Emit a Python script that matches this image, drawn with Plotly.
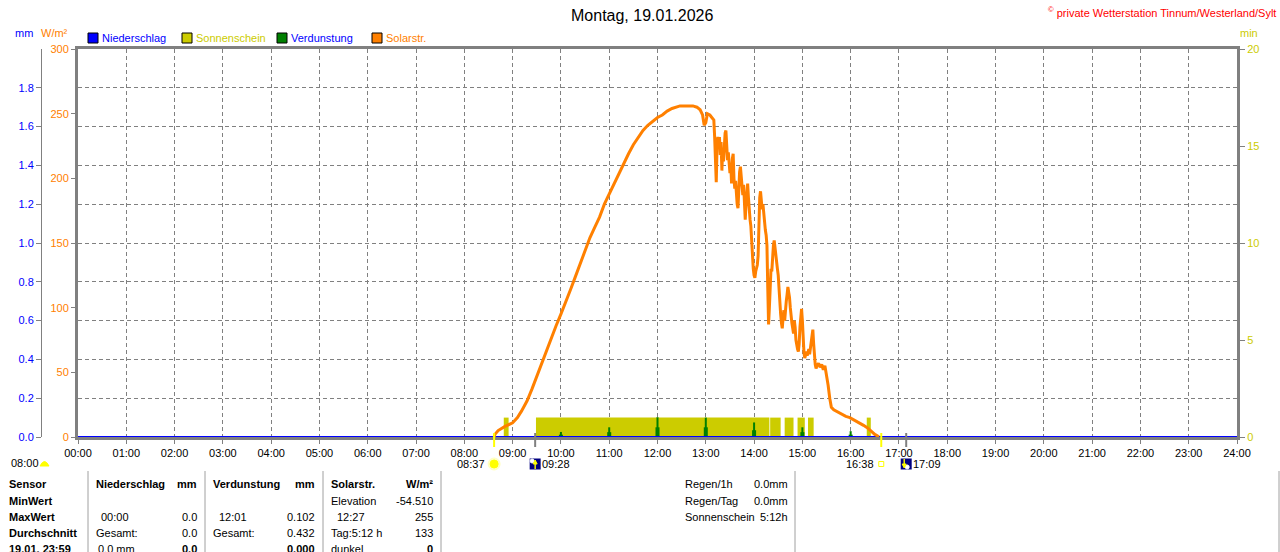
import plotly.graph_objects as go

# ---------------- data ----------------
hour_labels = ["%02d:00" % h for h in range(25)]

solar_times = [
    "08:37","08:38","08:42","08:50","09:00","09:06","09:11","09:18","09:24","09:30",
    "09:36","09:42","09:48","09:54","10:00","10:06","10:12","10:18","10:24","10:30",
    "10:36","10:42","10:48","10:54","11:00","11:06","11:12","11:18","11:24","11:30",
    "11:36","11:42","11:48","11:54","12:00","12:06","12:12","12:18","12:24","12:28",
    "12:36","12:44","12:49","12:53","12:56","12:58","13:00","13:02","13:05","13:08",
    "13:10","13:11",
    "13:12","13:13","13:14","13:15","13:16","13:17","13:18","13:19","13:20","13:21",
    "13:22","13:23","13:24","13:25","13:26","13:27","13:28","13:29","13:30","13:31",
    "13:32","13:33","13:34","13:35","13:36","13:37","13:38","13:39","13:40","13:41",
    "13:42","13:43","13:44","13:45","13:46","13:47","13:48","13:49","13:50","13:51",
    "13:52","13:53","13:54","13:55","13:56","13:57","13:58","13:59","14:00","14:01",
    "14:02","14:03","14:04","14:05","14:06","14:07","14:08","14:09","14:10","14:11",
    "14:12","14:13","14:14","14:15","14:16","14:17","14:18","14:19","14:20","14:21",
    "14:22","14:23","14:24","14:25","14:26","14:27","14:28","14:29","14:30","14:31",
    "14:32","14:33","14:34","14:35","14:36","14:37","14:38","14:39","14:40","14:41",
    "14:42","14:43","14:44","14:45","14:46","14:47","14:48","14:49","14:50","14:51",
    "14:52","14:53","14:54","14:55","14:56","14:57","14:58","14:59","15:00","15:01",
    "15:02","15:03","15:04","15:05","15:06","15:07","15:08","15:09","15:10","15:11",
    "15:12","15:13","15:14","15:15","15:16","15:17",
    "15:18","15:20","15:22","15:24","15:26","15:28","15:30","15:32","15:34","15:36",
    "15:39","15:43","15:48","15:54","15:59","16:05","16:10","16:16","16:21","16:26",
    "16:30","16:33","16:35"]
solar_values = [
    0, 2, 5, 8, 11, 15, 20, 28, 37, 47,
    57, 67, 77, 86, 95, 104, 114, 124, 134, 144,
    154, 162, 170, 180, 188, 196, 204, 211, 219, 226,
    232, 237, 241, 244, 247, 249, 252, 254, 255, 256,
    256, 256, 255, 253, 249, 241, 243, 250, 249, 247,
    245, 232,
    215, 197, 225, 232, 226, 232, 218, 228, 206, 222,
    213, 230, 235, 237, 226, 214, 220, 209, 204, 212,
    196, 215, 219, 200, 192, 198, 187, 180, 177, 195,
    205, 209, 200, 192, 187, 195, 175, 168, 180, 190,
    196, 185, 172, 168, 163, 150, 140, 130, 125, 123,
    128, 130, 133, 140, 170, 185, 190, 182, 176, 180,
    172, 165, 160, 156, 148, 115, 87, 100, 120, 130,
    128, 140, 148, 152, 145, 140, 132, 130, 125, 112,
    108, 95, 88, 84, 92, 98, 90, 100, 105, 110,
    116, 112, 108, 100, 92, 88, 84, 80, 90, 85,
    75, 70, 68, 66, 72, 85, 92, 99, 90, 75,
    65, 61, 64, 66, 63, 65, 68, 64, 70, 76,
    80, 83, 72, 62, 56, 53,
    55, 57, 54, 56, 52, 55, 48, 40, 30, 23,
    21, 19.6, 18, 16, 15, 13, 11, 9, 7, 4,
    2, 1, 0]
assert len(solar_times) == len(solar_values)

sun_start = ["08:49","09:29","14:20","14:38","14:54","15:07","16:20"]
sun_end   = ["08:55","14:19","14:33","14:49","15:03","15:14","16:25"]
sun_level = 1  # minutes of sunshine per minute

verd_times = ["10:00","11:00","12:00","13:00","14:00","15:00","16:00"]
verd_peak  = [0.026, 0.050, 0.102, 0.100, 0.075, 0.050, 0.030]
verd_base  = [0.012, 0.025, 0.050, 0.050, 0.035, 0.025, 0.012]

rain_times = hour_labels
rain_values = [0.0] * 25

event_times = ["08:37", "09:28", "16:38", "17:09"]

mm_ticks = [0.0, 0.2, 0.4, 0.6, 0.8, 1.0, 1.2, 1.4, 1.6, 1.8]
solar_ticks = [0, 50, 100, 150, 200, 250, 300]
min_ticks = [0, 5, 10, 15, 20]

# ---------------- helpers ----------------
W, H = 1280, 552
def X(p): return p / W
def Y(p): return 1 - p / H
def hm(s):
    h, m = s.split(":")
    return int(h) + int(m) / 60.0

FONT = "Liberation Sans"
ORANGE = "#FF8000"
YEL = "#CCCC00"
BLUE = "#0000FF"
GREEN = "#008000"
GRAY = "#808080"

fig = go.Figure()

# sunshine bars (right axis, minutes)
sx = [(hm(a) + hm(b)) / 2 for a, b in zip(sun_start, sun_end)]
sw = [hm(b) - hm(a) for a, b in zip(sun_start, sun_end)]
fig.add_trace(go.Bar(x=sx, y=[sun_level] * len(sx), width=sw, yaxis="y",
                     marker=dict(color=YEL, line=dict(width=0)), hoverinfo="skip"))

# evaporation bars (mm)
vx = [hm(t) for t in verd_times]
fig.add_trace(go.Bar(x=vx, y=verd_base, width=[5 / 60] * len(vx), yaxis="y2",
                     marker=dict(color=GREEN, line=dict(width=0)), hoverinfo="skip"))
fig.add_trace(go.Bar(x=vx, y=verd_peak, width=[2.5 / 60] * len(vx), yaxis="y2",
                     marker=dict(color=GREEN, line=dict(width=0)), hoverinfo="skip"))

# precipitation line (mm)
fig.add_trace(go.Scatter(x=[hm(t) for t in rain_times], y=rain_values, yaxis="y2",
                         mode="lines", line=dict(color=BLUE, width=2), hoverinfo="skip"))

# solar radiation
fig.add_trace(go.Scatter(x=[hm(t) for t in solar_times], y=solar_values, yaxis="y3",
                         mode="lines", line=dict(color=ORANGE, width=3), hoverinfo="skip"))

xdom = [X(78), X(1237)]
ydom = [Y(437), Y(49)]

fig.update_layout(
    template="none",
    width=W, height=H, margin=dict(l=0, r=0, t=0, b=0, pad=0, autoexpand=False),
    paper_bgcolor="white", plot_bgcolor="white",
    showlegend=False, barmode="overlay", hovermode=False,
    font=dict(family=FONT, size=11, color="black"),
    xaxis=dict(domain=xdom, range=[0, 24], tickvals=list(range(25)), ticktext=hour_labels,
               showgrid=True, gridcolor=GRAY, griddash="4px,3px", gridwidth=1,
               showline=True, linecolor=GRAY, linewidth=3, mirror=True, automargin=False,
               ticks="outside", ticklen=4, tickcolor=GRAY, tickfont=dict(size=11, color="black"),
               zeroline=False, layer="below traces", fixedrange=True),
    yaxis=dict(domain=ydom, range=[0, 20], side="right", anchor="x", automargin=False,
               tickvals=min_ticks, tickfont=dict(color=YEL, size=11),
               showgrid=False, zeroline=False, showline=True, linecolor=GRAY, linewidth=3,
               ticks="outside", ticklen=5, tickcolor=GRAY, layer="below traces", fixedrange=True),
    yaxis2=dict(domain=ydom, range=[0, 2.0], overlaying="y", side="left", anchor="free",
                position=X(41), tickvals=mm_ticks, ticktext=["%.1f" % v for v in mm_ticks],
                tickfont=dict(color=BLUE, size=11), automargin=False,
                showgrid=True, gridcolor=GRAY, griddash="4px,3px", gridwidth=1,
                zeroline=False, showline=True, linecolor=GRAY, linewidth=1,
                ticks="outside", ticklen=5, tickcolor=GRAY, layer="below traces", fixedrange=True),
    yaxis3=dict(domain=ydom, range=[0, 300], overlaying="y", side="left", anchor="x",
                tickvals=solar_ticks, tickfont=dict(color=ORANGE, size=11), automargin=False,
                showgrid=False, zeroline=False, showline=True, linecolor=GRAY, linewidth=3,
                ticks="outside", ticklen=4, tickcolor=GRAY, layer="below traces", fixedrange=True),
)

ann = []
shapes = []

def txt(x, y, s, color="black", anchor="left", size=11, bold=False):
    if bold:
        s = "<b>" + s + "</b>"
    ann.append(dict(x=X(x), y=Y(y), xref="paper", yref="paper", text=s, showarrow=False,
                    xanchor=anchor, yanchor="middle", font=dict(color=color, size=size, family=FONT),
                    borderpad=0))

# title and credit
txt(642, 15, "Montag, 19.01.2026", anchor="center", size=16)
txt(1277, 12, "<sup>©</sup> private Wetterstation Tinnum/Westerland/Sylt", color="#FF0000", anchor="right", size=11)

# axis unit labels
txt(14, 33, "mm", color=BLUE)
txt(40, 33, "W/m²", color=ORANGE)
txt(1239, 33, "min", color=YEL)

# legend
leg = [("Niederschlag", BLUE, BLUE, 88), ("Sonnenschein", YEL, YEL, 182),
       ("Verdunstung", GREEN, BLUE, 277), ("Solarstr.", ORANGE, ORANGE, 372)]
for name, fill, tcol, x0 in leg:
    shapes.append(dict(type="rect", xref="paper", yref="paper", x0=X(x0), x1=X(x0 + 10),
                       y0=Y(43), y1=Y(33), fillcolor=fill, line=dict(color="black", width=1)))
    txt(x0 + 13, 38, name, color=tcol)

# event markers below axis
ev_col = ["#FFFF00", GRAY, "#FFFF00", GRAY]
for t, c in zip(event_times, ev_col):
    shapes.append(dict(type="line", xref="x", yref="paper", x0=hm(t), x1=hm(t),
                       y0=Y(447), y1=Y(433), line=dict(color=c, width=2)))

def icon_rect(t, dx0, dx1, dy0, dy1, fill, line=None):
    shapes.append(dict(type="rect", xref="x", yref="paper", xsizemode="pixel", ysizemode="pixel",
                       xanchor=hm(t), yanchor=Y(464), x0=dx0, x1=dx1, y0=dy0, y1=dy1,
                       fillcolor=fill, line=line or dict(width=0)))

def icon_circle(t, r, fill, lc, dx=0, dy=0):
    shapes.append(dict(type="circle", xref="x", yref="paper", xsizemode="pixel", ysizemode="pixel",
                       xanchor=hm(t), yanchor=Y(464), x0=dx - r, x1=dx + r, y0=dy - r, y1=dy + r,
                       fillcolor=fill, line=dict(color=lc, width=1)))

def icon_path(t, path, fill, lc=None):
    shapes.append(dict(type="path", xref="x", yref="paper", xsizemode="pixel", ysizemode="pixel",
                       xanchor=hm(t), yanchor=Y(464), path=path, fillcolor=fill,
                       line=dict(color=lc or fill, width=1)))

# sunrise 08:37
icon_circle(event_times[0], 6, "#FFFFC0", "#FFFFC0")
icon_circle(event_times[0], 4, "#FFFF00", "#FFFF00")
ann.append(dict(x=hm(event_times[0]), y=Y(464), xref="x", yref="paper", text=event_times[0],
                showarrow=False, xanchor="right", yanchor="middle", xshift=-7, font=dict(size=11)))
# 09:28 (rise icon)
icon_rect(event_times[1], -5.5, 5.5, -5.5, 5.5, "#000080")
icon_circle(event_times[1], 2, "white", "white", dx=-3, dy=3)
icon_path(event_times[1], "M -2,0 L 0,4 L 2,0 Z", "#FFFF00")
icon_rect(event_times[1], -0.7, 0.7, -5, 0, "#FFFF00")
ann.append(dict(x=hm(event_times[1]), y=Y(464), xref="x", yref="paper", text=event_times[1],
                showarrow=False, xanchor="left", yanchor="middle", xshift=5, font=dict(size=11)))
# sunset 16:38
icon_rect(event_times[2], -2.5, 2.5, -2.5, 2.5, "white", dict(color="#FFFF00", width=1))
ann.append(dict(x=hm(event_times[2]), y=Y(464), xref="x", yref="paper", text=event_times[2],
                showarrow=False, xanchor="right", yanchor="middle", xshift=-5, font=dict(size=11)))
# 17:09 (set icon)
icon_rect(event_times[3], -5.5, 5.5, -5.5, 5.5, "#000080")
icon_circle(event_times[3], 2, "white", "white", dx=1, dy=-3)
icon_path(event_times[3], "M -4,0 L -2,-4 L 0,0 Z", "#FFFF00")
icon_rect(event_times[3], -2.7, -1.3, 0, 5, "#FFFF00")
ann.append(dict(x=hm(event_times[3]), y=Y(464), xref="x", yref="paper", text=event_times[3],
                showarrow=False, xanchor="left", yanchor="middle", xshift=5, font=dict(size=11)))

# 08:00 on far left
txt(10, 463, "08:00")
shapes.append(dict(type="path", xref="paper", yref="paper", xsizemode="pixel", ysizemode="pixel",
                   xanchor=X(44.5), yanchor=Y(466), path="M -4.5,0 Q 0,9 4.5,0 Z",
                   fillcolor="#FFFF00", line=dict(color="#FFFF00", width=1)))

# table separators
for xl in [88, 205, 323, 441, 795, 1279]:
    shapes.append(dict(type="line", xref="paper", yref="paper", x0=X(xl), x1=X(xl),
                       y0=Y(471), y1=Y(552), line=dict(color="#A0A0A0", width=1)))

rows = [484, 500.5, 516.5, 532.5, 548.5]
row_heads = ["Sensor", "MinWert", "MaxWert", "Durchschnitt", "19.01. 23:59"]
for r, s in zip(rows, row_heads):
    txt(8, r, s, bold=True)

txt(95, rows[0], "Niederschlag", bold=True); txt(198, rows[0], "mm", anchor="right", bold=True)
txt(212, rows[0], "Verdunstung", bold=True); txt(316, rows[0], "mm", anchor="right", bold=True)
txt(330, rows[0], "Solarstr.", bold=True); txt(434, rows[0], "W/m²", anchor="right", bold=True)

txt(330, rows[1], "Elevation"); txt(434, rows[1], "-54.510", anchor="right")

txt(100, rows[2], "00:00"); txt(198, rows[2], "0.0", anchor="right")
txt(218, rows[2], "12:01"); txt(316, rows[2], "0.102", anchor="right")
txt(336, rows[2], "12:27"); txt(434, rows[2], "255", anchor="right")

txt(95, rows[3], "Gesamt:"); txt(198, rows[3], "0.0", anchor="right")
txt(212, rows[3], "Gesamt:"); txt(316, rows[3], "0.432", anchor="right")
txt(330, rows[3], "Tag:5:12 h"); txt(434, rows[3], "133", anchor="right")

txt(97, rows[4], "0.0 mm"); txt(198, rows[4], "0.0", anchor="right", bold=True)
txt(316, rows[4], "0.000", anchor="right", bold=True)
txt(330, rows[4], "dunkel"); txt(434, rows[4], "0", anchor="right", bold=True)

txt(684, 484, "Regen/1h"); txt(789, 484, "0.0mm", anchor="right")
txt(684, 500.5, "Regen/Tag"); txt(789, 500.5, "0.0mm", anchor="right")
txt(684, 516.5, "Sonnenschein"); txt(789, 516.5, "5:12h", anchor="right")

fig.update_layout(annotations=ann, shapes=shapes)
fig.write_html("out.html", config={"displayModeBar": False},
               post_script="document.body.style.margin='0';document.body.style.padding='0';"
                           "document.body.style.overflow='hidden';")
